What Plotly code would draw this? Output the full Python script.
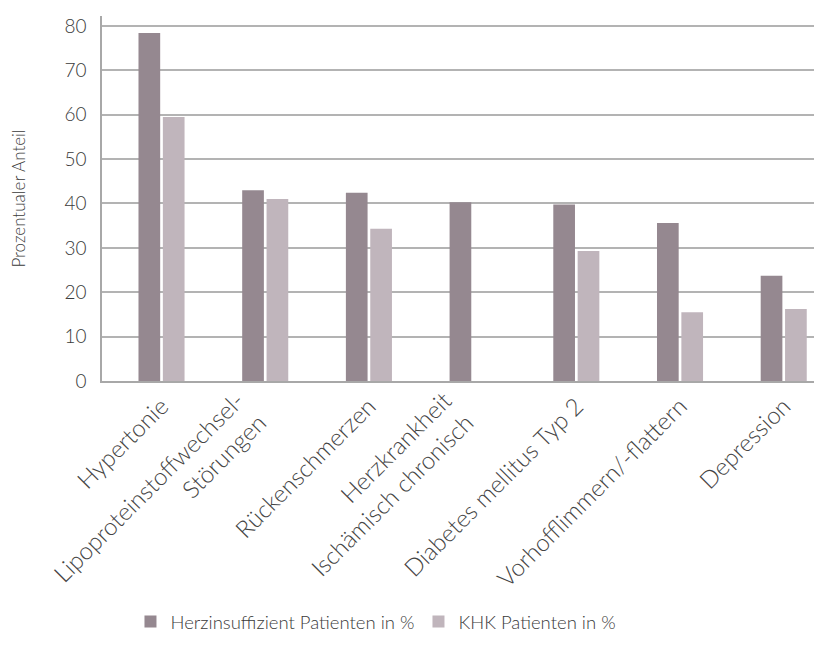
import plotly.graph_objects as go

categories = ["Hypertonie", "Lipoproteinstoffwechsel-<br>Störungen", "Rückenschmerzen",
              "Herzkrankheit<br>Ischämisch chronisch", "Diabetes mellitus Typ 2",
              "Vorhofflimmern/-flattern", "Depression"]
herz = [78.4, 43.0, 42.4, 40.3, 39.8, 35.6, 23.7]
khk = [59.5, 41.0, 34.3, None, 29.3, 15.5, 16.2]
y_ticks = [0, 10, 20, 30, 40, 50, 60, 70, 80]

FONT = "Lato"
idx = list(range(len(categories)))
single_idx = [i for i, c in enumerate(categories) if "<br>" not in c]
multi_idx = [i for i, c in enumerate(categories) if "<br>" in c]

fig = go.Figure()
fig.add_bar(x=idx, y=herz, name="Herzinsuffizient Patienten in %",
            marker=dict(color="#958890", line=dict(width=0)))
fig.add_bar(x=idx, y=khk, name="KHK Patienten in %",
            marker=dict(color="#c0b5bc", line=dict(width=0)))
# helper (invisible) trace so the second label axis is drawn
fig.add_scatter(x=multi_idx, y=[0] * len(multi_idx), xaxis="x2", yaxis="y",
                mode="markers", marker=dict(opacity=0, size=1),
                showlegend=False, hoverinfo="skip")

tickfont = dict(family=FONT, size=24, weight=300, color="#444444")
xrange = [-0.574, 6.292]

fig.update_layout(
    width=814, height=662,
    margin=dict(l=102, r=0, t=16, b=281),
    plot_bgcolor="white", paper_bgcolor="white",
    barmode="group", bargap=0.53, bargroupgap=0.11,
    font=dict(family=FONT, size=18, color="#3a3a3a", weight=300),
    showlegend=True,
    legend=dict(orientation="h", x=0.04, y=-0.66, xanchor="left", yanchor="middle",
                font=dict(size=18.5, weight=300), entrywidth=243, entrywidthmode="pixels",
                itemsizing="constant"),
    xaxis=dict(tickmode="array", tickvals=single_idx,
               ticktext=[categories[i] for i in single_idx],
               range=xrange, tickangle=-45, showgrid=False,
               showline=True, linecolor="#a8a8a8", linewidth=1.5, ticks="",
               tickfont=tickfont),
    xaxis2=dict(overlaying="x", anchor="y", side="bottom",
                tickmode="array", tickvals=multi_idx,
                ticktext=[categories[i] for i in multi_idx],
                range=xrange, tickangle=-45, showgrid=False, showline=False,
                zeroline=False, ticks="", ticklabelshift=-28, tickfont=tickfont),
    yaxis=dict(range=[0, 82.25], tickvals=y_ticks, showgrid=True, gridcolor="#b3b3b3",
               gridwidth=1.5, showline=True, linecolor="#a8a8a8", linewidth=1.5,
               zeroline=False, ticks="", ticklabelstandoff=10,
               tickfont=dict(size=19, weight=300),
               title=dict(text="Prozentualer Anteil", font=dict(size=17, weight=300), standoff=34)),
)
fig.write_html("out.html")
